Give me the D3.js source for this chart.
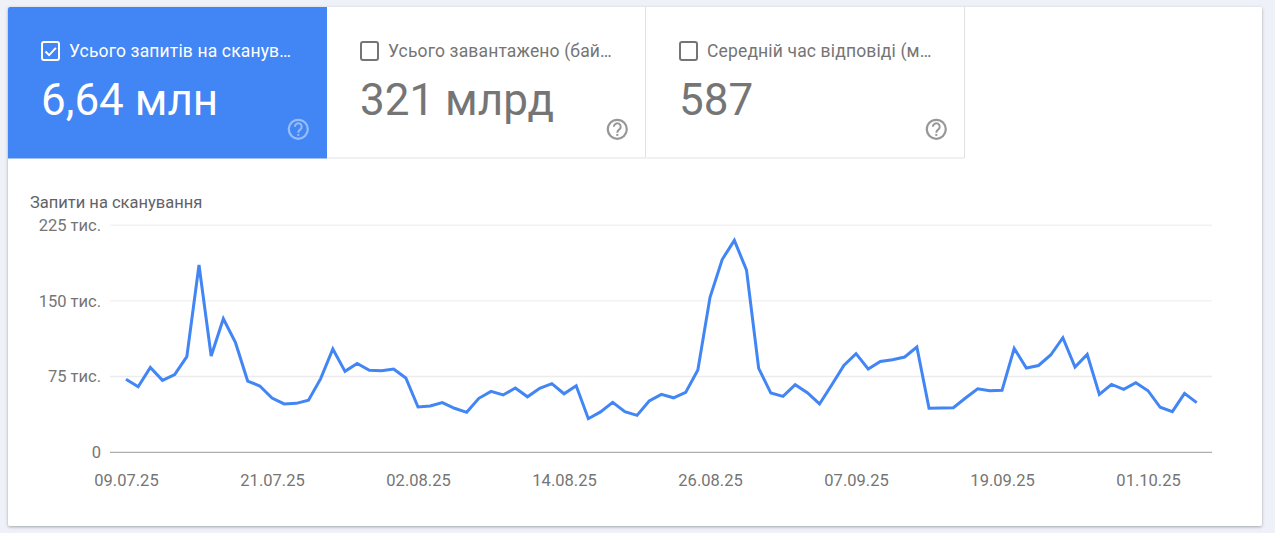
<!DOCTYPE html>
<html lang="uk">
<head>
<meta charset="utf-8">
<script src="https://cdn.jsdelivr.net/npm/d3@7"></script>
<style>
html,body{margin:0;padding:0;background:#eef2f8;overflow:hidden}
svg{display:block;font-family:Roboto,sans-serif}
</style>
</head>
<body>
<svg id="c" width="1275" height="533"></svg>
<script>
const startDate = "09.07.25";
const requests = [72.3,65,84,71.3,77,94.7,185.5,95.4,132.3,108.6,70.6,65.7,53.8,47.9,48.5,51.5,73,102.3,80.2,88,81.2,80.9,82.5,73.6,44.9,45.9,49.2,43.6,39.6,53.5,60.4,56.8,63.7,55,63.4,68,58,66,33.3,40,49.5,40.3,36.6,50.8,57.4,54,59.4,81.5,153.5,191,210,180.5,83.2,58.7,55.4,67,59,47.9,66.7,86,97.7,82.5,90,91.7,94.4,104.3,43.6,44,44.2,53.8,63,61,61.4,103,83.5,86,96.4,113.5,84.5,97,57.4,67.3,62.4,69,61,44.6,40.3,58.4,49.2];
const xTickLabels = ["09.07.25","21.07.25","02.08.25","14.08.25","26.08.25","07.09.25","19.09.25","01.10.25"];
const yTickValues = [0,75,150,225];
const yTickLabels = ["0","75 тис.","150 тис.","225 тис."];
const tileTitles = ["Усього запитів на сканув…","Усього завантажено (бай…","Середній час відповіді (м…"];
const tileValues = ["6,64 млн","321 млрд","587"];
const tileChecked = [true,false,false];
const chartTitle = "Запити на сканування";

const parse = d3.utcParse("%d.%m.%y"), fmt = d3.utcFormat("%d.%m.%y");
const t0 = parse(startDate);
const dates = requests.map((_,i)=>d3.utcDay.offset(t0,i));

const svg = d3.select("#c");
const defs = svg.append("defs");
const f = defs.append("filter").attr("id","sh").attr("x","-2%").attr("y","-2%").attr("width","104%").attr("height","104%");
f.append("feDropShadow").attr("dx",0).attr("dy",1).attr("stdDeviation",1.5).attr("flood-color","#3c4043").attr("flood-opacity",0.45);

// card
svg.append("rect").attr("x",8).attr("y",7).attr("width",1254).attr("height",519).attr("rx",2).attr("fill","#fff").attr("filter","url(#sh)");

// tiles
const tileW = 319, tileH = 151.5;
tileTitles.forEach((title,i)=>{
  const g = svg.append("g").attr("transform",`translate(${8+i*tileW},7)`);
  const on = tileChecked[i];
  if(on) g.append("path").attr("d",`M2 0H${tileW}V${tileH}H0V2A2 2 0 0 1 2 0Z`).attr("fill","#4285f4");
  else {
    g.append("path").attr("d",`M0.5 ${tileH-0.5}H${tileW-0.5}V0`).attr("fill","none").attr("stroke","#dfe1e4").attr("stroke-width",1);
  }
  const fg = on ? "#fff" : "#757575";
  g.append("rect").attr("x",34).attr("y",35).attr("width",17).attr("height",18).attr("rx",2)
    .attr("fill","none").attr("stroke",fg).attr("stroke-width",2);
  if(on) g.append("path").attr("d","M37.5 44.5l3.6 3.6 6.8-7.2").attr("fill","none").attr("stroke","#fff").attr("stroke-width",2);
  g.append("text").attr("x",61).attr("y",50).attr("font-size",17.5).attr("letter-spacing",0.15).attr("fill",fg).text(title);
  g.append("text").attr("x",33).attr("y",108).attr("font-size",44).attr("fill",fg).text(tileValues[i]);
  const help = g.append("g").attr("transform","translate(290.3,122.3)").attr("opacity",on?0.45:0.75);
  const hc = on ? "#fff" : "#757575";
  help.append("circle").attr("r",9.5).attr("fill","none").attr("stroke",hc).attr("stroke-width",2.2);
  help.append("path").attr("d","M-3.4 -2.6A3.4 3.4 0 1 1 1.9 0.2C0.6 1.2 0 1.6 0 3.4").attr("fill","none").attr("stroke",hc).attr("stroke-width",2);
  help.append("rect").attr("x",-1).attr("y",4.6).attr("width",2).attr("height",2).attr("fill",hc);
});

// chart
const x = d3.scaleUtc().domain([t0,dates[dates.length-1]]).range([126,1196.7]);
const y = d3.scaleLinear().domain([0,225]).range([452.3,225.2]);

svg.append("text").attr("x",30).attr("y",207.5).attr("font-size",16.5).attr("fill","#5f6368").text(chartTitle);

const yAxis = d3.axisLeft(y).tickValues(yTickValues).tickFormat((d,i)=>yTickLabels[i]).tickSize(0).tickPadding(0);
const gy = svg.append("g").attr("transform","translate(101,0)").call(yAxis);
gy.select(".domain").remove();
gy.selectAll("text").attr("font-family","Roboto,sans-serif").attr("font-size",16.5).attr("fill","#757575");

const grid = svg.append("g");
grid.selectAll("line").data(yTickValues).join("line")
  .attr("x1",110).attr("x2",1212)
  .attr("y1",d=>y(d)).attr("y2",d=>y(d))
  .attr("stroke",d=>d===0?"#999":"#ececec").attr("stroke-width",d=>d===75?1.5:1);

const xAxis = d3.axisBottom(x).tickValues(xTickLabels.map(parse)).tickFormat(fmt).tickSize(0).tickPadding(0);
const gx = svg.append("g").attr("transform","translate(0,485.5)").call(xAxis);
gx.select(".domain").remove();
gx.selectAll("text").attr("y",0).attr("dy",0).attr("font-family","Roboto,sans-serif").attr("font-size",16.5).attr("fill","#757575");

const line = d3.line().x((d,i)=>x(dates[i])).y(d=>y(d));
svg.append("path").datum(requests).attr("d",line).attr("fill","none").attr("stroke","#4285f4").attr("stroke-width",3).attr("stroke-linejoin","miter");
</script>
</body>
</html>
